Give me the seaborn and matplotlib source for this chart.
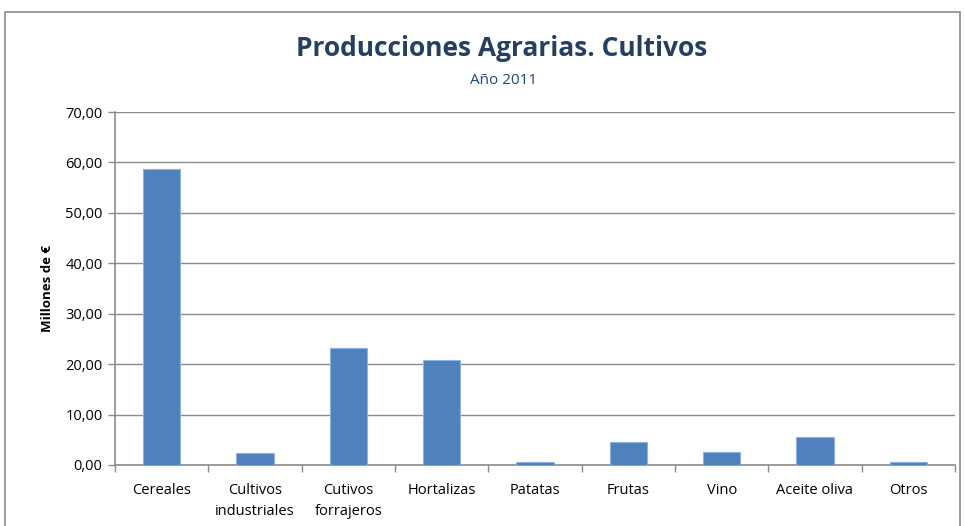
import matplotlib
matplotlib.use("Agg")
import matplotlib.pyplot as plt
from matplotlib.patches import Rectangle
from matplotlib.ticker import FuncFormatter, FixedLocator
import seaborn as sns
import pandas as pd

categorias = ["Cereales", "Cultivos\nindustriales", "Cutivos\nforrajeros", "Hortalizas",
              "Patatas", "Frutas", "Vino", "Aceite oliva", "Otros"]
valores = [58.6, 2.3, 23.3, 20.9, 0.5, 4.5, 2.6, 5.5, 0.5]

df = pd.DataFrame({"cultivo": categorias, "millones": valores})

sns.set_theme(style="white")
plt.rcParams["font.family"] = ["Open Sans", "DejaVu Sans"]

fig = plt.figure(figsize=(9.65, 5.26), dpi=100)
ax = fig.add_axes([115 / 965, 1 - 465 / 526, 840 / 965, 353 / 526])

sns.barplot(data=df, x="cultivo", y="millones", color="#4F81BD", saturation=1, width=0.4,
            edgecolor="#8DB3E2", linewidth=0.8, ax=ax, zorder=3)

ax.set_ylim(0, 70)
ax.set_xlim(-0.5, len(categorias) - 0.5)
ax.set_yticks(range(0, 71, 10))
ax.yaxis.set_major_formatter(FuncFormatter(lambda v, p: f"{v:.2f}".replace(".", ",")))
ax.grid(axis="y", color="#8C8C8C", linewidth=1, zorder=0)
ax.set_axisbelow(True)

# ticks between categories, as in the original
ax.xaxis.set_minor_locator(FixedLocator([i - 0.5 for i in range(len(categorias) + 1)]))
ax.tick_params(axis="x", which="major", length=0, labelsize=10.5, pad=13, labelcolor="black")
ax.tick_params(axis="x", which="minor", length=5, width=1, color="#8C8C8C", direction="out", bottom=True)
ax.tick_params(axis="y", length=5, width=1, color="#8C8C8C", direction="out", left=True,
               labelsize=10.5, pad=4, labelcolor="black")
for lbl in ax.get_xticklabels():
    lbl.set_linespacing(1.5)

for s in ["top", "right"]:
    ax.spines[s].set_visible(False)
for s in ["left", "bottom"]:
    ax.spines[s].set_color("#8C8C8C")
    ax.spines[s].set_linewidth(1.2)

ax.set_xlabel("")
ax.set_ylabel("Millones de €", fontsize=9.5, fontweight="bold", labelpad=8, color="black")

fig.text(502 / 965, 1 - 48 / 526, "Producciones Agrarias. Cultivos", ha="center", va="center",
         fontsize=19, fontweight="bold", color="#243F60")
fig.text(504 / 965, 1 - 81 / 526, "Año 2011", ha="center", va="center",
         fontsize=11, color="#1F497D")

# chart frame
fig.patches.append(Rectangle((5 / 965, -0.05), 955 / 965, 1.05 - 12 / 526, transform=fig.transFigure,
                             fill=False, edgecolor="#8C8C8C", linewidth=1.2))

fig.savefig("out.png", dpi=100)
